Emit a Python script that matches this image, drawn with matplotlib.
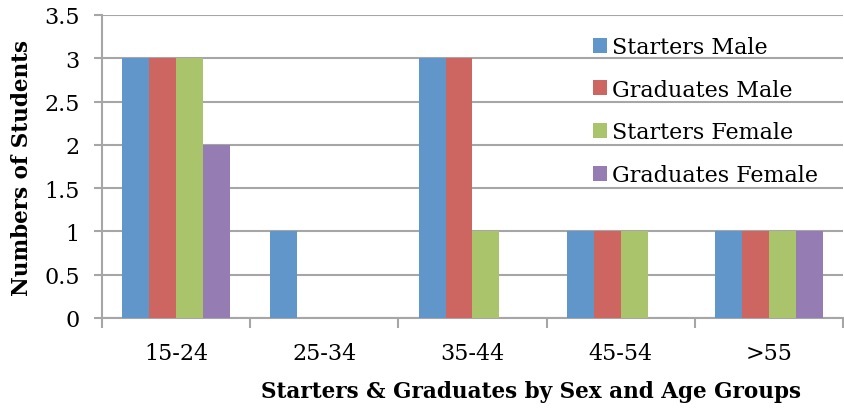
import numpy as np
import matplotlib
matplotlib.use("Agg")
from matplotlib import pyplot as plt

groups = ["15-24", "25-34", "35-44", "45-54", ">55"]
series_names = ["Starters Male", "Graduates Male", "Starters Female", "Graduates Female"]
starters_male = [3, 1, 3, 1, 1]
graduates_male = [3, 0, 3, 1, 1]
starters_female = [3, 0, 1, 1, 1]
graduates_female = [2, 0, 0, 0, 1]
colors = ["#6096c9", "#cd6560", "#aac46c", "#957cb2"]

plt.rcParams['font.family'] = ['DejaVu Serif']

fig = plt.figure(figsize=(8.45, 4.10), dpi=100)
ax = fig.add_axes([102/845, 91/410, 741/845, 303/410])

grid_col = "#a6a6a6"
n = len(groups)
x = np.arange(n)
w = 1/5.5
all_series = [starters_male, graduates_male, starters_female, graduates_female]
for i, (vals, name, col) in enumerate(zip(all_series, series_names, colors)):
    ax.bar(x + (i - 1.5)*w, vals, width=w, color=col, label=name, zorder=3)

ax.set_xlim(-0.5, n - 0.5)
ax.set_ylim(0, 3.5)
ax.set_yticks(np.arange(0, 3.51, 0.5))
ax.set_yticklabels(["0", "0.5", "1", "1.5", "2", "2.5", "3", "3.5"])
ax.set_xticks(x)
ax.set_xticklabels(groups)
ax.set_xticks(np.arange(-0.5, n, 1), minor=True)
ax.tick_params(axis='x', which='major', length=0, pad=17, labelsize=16)
ax.tick_params(axis='x', which='minor', length=7, width=1.5, color=grid_col)
ax.tick_params(axis='y', length=6, width=1.5, color=grid_col, labelsize=16, pad=10)
ax.yaxis.grid(True, color=grid_col, linewidth=1.5, zorder=0)
ax.set_axisbelow(True)
for s in ["top", "right"]:
    ax.spines[s].set_visible(False)
for s in ["left", "bottom"]:
    ax.spines[s].set_color(grid_col)
    ax.spines[s].set_linewidth(1.5)

ax.set_ylabel("Numbers of Students", fontsize=15.5, fontweight="bold", labelpad=8)
ax.set_xlabel("Starters & Graduates by Sex and Age Groups", fontsize=15.5, fontweight="bold")
ax.xaxis.set_label_coords(0.579, -0.203)

leg = ax.legend(loc="upper left", bbox_to_anchor=(0.635, 0.997), frameon=False,
                fontsize=16, handlelength=0.65, handleheight=0.65, handletextpad=0.22,
                labelspacing=0.93)

plt.savefig("out.png", dpi=100)
plt.close()
